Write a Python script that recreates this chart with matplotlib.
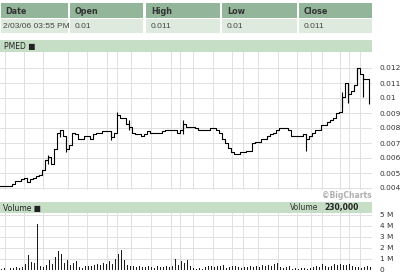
import matplotlib
matplotlib.use("Agg")
import matplotlib.pyplot as plt
from matplotlib.patches import Rectangle
import numpy as np

# quote table
headers = ["Date", "Open", "High", "Low", "Close"]
values = ["2/03/06 03:55 PM", "0.01", "0.011", "0.01", "0.011"]

# price trace (closes) and high/low whiskers
closes = [0.00413, 0.00413, 0.00413, 0.00413, 0.0043, 0.0045, 0.0045, 0.0046, 0.0047, 0.0044,
          0.0046, 0.0047, 0.0048, 0.0049, 0.0052, 0.0059, 0.0061, 0.0056, 0.0066, 0.0077,
          0.0079, 0.0075, 0.0066, 0.0069, 0.0077, 0.0076, 0.0073, 0.0073, 0.0075, 0.0075,
          0.0073, 0.0076, 0.0077, 0.0077, 0.0078, 0.0078, 0.0078, 0.0074, 0.0077, 0.0089,
          0.0087, 0.0087, 0.0083, 0.0081, 0.0077, 0.0076, 0.0076, 0.0075, 0.0076, 0.0078,
          0.0077, 0.0077, 0.0077, 0.0077, 0.0078, 0.0079, 0.0079, 0.0079, 0.0079, 0.0077,
          0.0079, 0.0083, 0.0081, 0.0081, 0.0081, 0.0080, 0.0079, 0.0079, 0.0079, 0.0079,
          0.0080, 0.0080, 0.0079, 0.0077, 0.0073, 0.0070, 0.0067, 0.0064, 0.0063, 0.0063,
          0.0064, 0.0064, 0.0065, 0.0065, 0.0070, 0.0071, 0.0071, 0.0073, 0.0073, 0.0075,
          0.0076, 0.0077, 0.0079, 0.0080, 0.0080, 0.0080, 0.0079, 0.0075, 0.0075, 0.0075,
          0.0075, 0.0076, 0.0073, 0.0075, 0.0077, 0.0079, 0.0079, 0.0082, 0.0082, 0.0084,
          0.0085, 0.0087, 0.0090, 0.0091, 0.0101, 0.0110, 0.0103, 0.0105, 0.0109, 0.0120,
          0.0116, 0.0113, 0.0113, 0.0110]
whisk_idx = [16, 20, 22, 37, 39, 43, 61, 102, 114, 116, 119, 121, 123]
whisk_low = [0.0056, 0.0074, 0.0064, 0.0072, 0.0088, 0.0079, 0.0076, 0.0065, 0.0094, 0.0097, 0.0112, 0.0101, 0.0096]
whisk_high = [0.0062, 0.0079, 0.0072, 0.0078, 0.0091, 0.0085, 0.0085, 0.0076, 0.0104, 0.0110, 0.0120, 0.0116, 0.0110]

# volume in millions
volume = [0.05, 0.1, 0.0, 0.1, 0.15, 0.2, 0.1, 0.2, 0.5, 1.3,
          0.7, 0.6, 4.1, 0.3, 0.2, 0.4, 0.9, 0.5, 1.1, 1.7,
          1.4, 0.6, 0.9, 0.4, 0.6, 0.8, 0.2, 0.15, 0.3, 0.35,
          0.3, 0.45, 0.5, 0.4, 0.6, 0.5, 0.8, 0.5, 1.0, 1.4,
          1.8, 0.9, 0.4, 0.3, 0.3, 0.25, 0.35, 0.2, 0.25, 0.3,
          0.2, 0.15, 0.3, 0.2, 0.25, 0.3, 0.2, 0.35, 1.0, 0.4,
          0.8, 0.6, 0.9, 0.3, 0.1, 0.05, 0.1, 0.05, 0.2, 0.3,
          0.3, 0.2, 0.35, 0.3, 0.4, 0.1, 0.2, 0.3, 0.35, 0.2,
          0.1, 0.2, 0.25, 0.3, 0.25, 0.3, 0.2, 0.4, 0.3, 0.4,
          0.35, 0.5, 0.6, 0.2, 0.1, 0.25, 0.3, 0.05, 0.1, 0.05,
          0.1, 0.1, 0.05, 0.1, 0.2, 0.3, 0.2, 0.5, 0.3, 0.2,
          0.35, 0.5, 0.4, 0.5, 0.45, 0.4, 0.5, 0.3, 0.25, 0.2,
          0.15, 0.2, 0.3, 0.2]

price_ticks = [0.004, 0.005, 0.006, 0.007, 0.008, 0.009, 0.01, 0.011, 0.012]
price_labels = ["0.004", "0.005", "0.006", "0.007", "0.008", "0.009", "0.01", "0.011", "0.012"]
vol_ticks = [0, 1, 2, 3, 4, 5]
vol_labels = ["0", "1 M", "2 M", "3 M", "4 M", "5 M"]
date_grid = [1.7, 8, 14.3, 22.7, 29, 35.7, 39, 43.7, 50.3, 57, 60, 64.3, 71, 77.3, 81,
             86, 92.7, 99, 103.7, 107.3, 113.3, 116.3, 120]

W, H = 400, 277
GRID = "#e0e0e0"


def rect(x0, y0, x1, y1):
    return [x0 / W, 1 - y1 / H, (x1 - x0) / W, (y1 - y0) / H]


fig = plt.figure(figsize=(4, 2.77), dpi=100)
fig.patch.set_facecolor("white")

# background layer in pixel coordinates for table and bands
bg = fig.add_axes([0, 0, 1, 1])
bg.set_xlim(0, W)
bg.set_ylim(H, 0)
bg.axis("off")

col_x = [(1, 68), (70, 143), (146, 220), (222, 297), (299, 372)]
for (x0, x1), h, v in zip(col_x, headers, values):
    bg.add_patch(Rectangle((x0, 3), x1 - x0, 15, color="#93b69b", lw=0))
    bg.add_patch(Rectangle((x0, 19), x1 - x0, 14, color="#dfeadf", lw=0))
    tx = x0 + 2 if h == "Date" else x0 + 5
    bg.text(tx + 2 if h == "Date" else tx, 11, h, fontsize=5.8, fontweight="bold",
            color="#333333", va="center", ha="left", family="DejaVu Sans")
    bg.text(tx, 26.5, v, fontsize=6, color="#444444", va="center", ha="left",
            family="Liberation Sans")

bg.add_patch(Rectangle((0, 40), 372, 12, color="#c6ddc6", lw=0))
bg.text(4, 46.5, "PMED \u25a0", fontsize=5.5, color="#222222", va="center",
        family="DejaVu Sans")
bg.add_patch(Rectangle((0, 202), 372, 11, color="#c6ddc6", lw=0))
bg.text(3, 208, "Volume \u25a0", fontsize=5.5, color="#222222", va="center",
        family="DejaVu Sans")
bg.text(290, 207.5, "Volume", fontsize=5.5, color="#333333", va="center",
        family="DejaVu Sans")
bg.text(324, 207.5, "230,000", fontsize=5.5, fontweight="bold", color="#222222",
        va="center", family="DejaVu Sans")
bg.text(372, 195, "\u00a9BigCharts", fontsize=5.5, fontweight="bold", color="#b0b0b0",
        va="center", ha="right", family="DejaVu Sans")

# price panel
ax = fig.add_axes(rect(0, 52, 372, 190))
x = np.arange(len(closes))
ax.step(x, closes, where="post", color="black", lw=0.8)
ax.vlines(whisk_idx, whisk_low, whisk_high, color="black", lw=0.8)
ax.set_xlim(0, len(closes))
ax.set_ylim(0.004 - 2 / 15000, 0.004 + 136 / 15000)
ax.set_yticks(price_ticks)
ax.set_yticklabels(price_labels)
ax.set_xticks(date_grid)
ax.grid(True, color=GRID, lw=0.7)
ax.set_axisbelow(True)
ax.yaxis.tick_right()
ax.tick_params(axis="y", length=0, pad=5.5, labelsize=5.3, labelcolor="#333333")
ax.tick_params(axis="x", length=0, labelbottom=False)
for s in ax.spines.values():
    s.set_visible(False)
ax.patch.set_alpha(0)

# volume panel
av = fig.add_axes(rect(0, 213, 372, 270))
av.bar(np.arange(len(volume)) + 0.5, volume, width=0.4, color="#1a1a1a")
av.set_xlim(0, len(volume))
av.set_ylim(-0.045, 5.14)
av.set_yticks(vol_ticks)
av.set_yticklabels(vol_labels)
av.set_xticks(date_grid)
av.grid(True, color=GRID, lw=0.7)
av.set_axisbelow(True)
av.yaxis.tick_right()
av.tick_params(axis="y", length=0, pad=5.5, labelsize=5.3, labelcolor="#333333")
av.tick_params(axis="x", length=0, labelbottom=False)
for s in av.spines.values():
    s.set_visible(False)
av.patch.set_alpha(0)

fig.savefig("out.png", dpi=100)
